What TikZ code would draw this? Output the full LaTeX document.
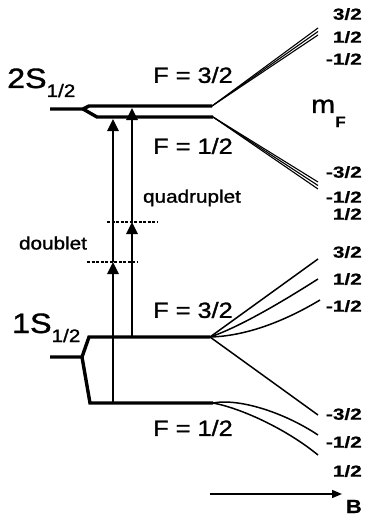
\documentclass[tikz,border=0pt]{standalone}
\usepackage{fontspec}
\setmainfont{Liberation Sans}
\newfontfamily\rgf{Liberation Sans}[FakeBold=1.2]
\newfontfamily\bdf{Liberation Sans Bold}[FakeBold=0.5]
\usepackage{graphicx}
\usetikzlibrary{arrows.meta}
\newcommand\sct[3][1.15]{\scalebox{#1}[1]{\fontsize{#2}{#2}\selectfont #3}}
\begin{document}
\begin{tikzpicture}[x=1pt,y=-1pt,
 level/.style={line width=3.4pt, line join=miter},
 fan/.style={line width=1.5pt},
 thinfan/.style={line width=1.1pt},
 trans/.style={line width=2.6pt,-{Triangle[length=12pt,width=11pt]}},
 dashline/.style={line width=1.2pt, dash pattern=on 3pt off 1.5pt},
 lab/.style={inner sep=0pt, font=\rgf},
 mflab/.style={inner sep=0pt, anchor=east, font=\bdf}
]
\useasboundingbox (0,0) rectangle (365,516);
% ---- 2S levels
\coordinate (s2L) at (50,109);
\coordinate (s2J) at (83,109);
\coordinate (s2a) at (89,106);
\coordinate (s2b) at (97,117);
\coordinate (s2A) at (212,106);
\coordinate (s2B) at (213,117);
\draw[level] (s2L) -- (s2J) -- (s2a) -- (s2A);
\draw[level] (s2J) -- (s2b) -- (s2B);
\coordinate (u1) at (318,28);
\coordinate (u2) at (318,31.5);
\coordinate (u3) at (318,35);
\coordinate (d1) at (318,182);
\coordinate (d2) at (318,185.5);
\coordinate (d3) at (318,189);
\draw[thinfan] (s2A) -- (u1);
\draw[thinfan] (s2A) -- (u2);
\draw[thinfan] (s2A) -- (u3);
\draw[thinfan] (s2B) -- (d1);
\draw[thinfan] (s2B) -- (d2);
\draw[thinfan] (s2B) -- (d3);
% ---- 1S levels
\coordinate (s1L) at (50,357);
\coordinate (s1J) at (82,357);
\coordinate (s1a) at (89,337);
\coordinate (s1b) at (90,403);
\coordinate (s1A) at (210,337);
\coordinate (s1B) at (213,403);
\draw[level] (s1L) -- (s1J) -- (s1a) -- (s1A);
\draw[level] (s1J) -- (s1b) -- (s1B);
\coordinate (e1) at (318,259);
\coordinate (e2) at (318,279);
\coordinate (e3) at (320,300);
\coordinate (e4) at (318,415);
\coordinate (g1) at (318,435);
\coordinate (g2) at (318,455);
\draw[fan] (s1A) -- (e1);
\draw[fan] (s1A) .. controls (240,327) and (285,300) .. (e2);
\draw[fan] (s1A) .. controls (250,336) and (290,318) .. (e3);
\draw[fan] (s1A) -- (e4);
\draw[fan] (s1B) .. controls (240,398) and (285,413) .. (g1);
\draw[fan] (s1B) .. controls (240,408) and (285,428) .. (g2);
% ---- transitions
\coordinate (la0) at (113,403);
\coordinate (lam) at (113,262);
\coordinate (la1) at (113,119);
\coordinate (ra0) at (132,337);
\coordinate (ram) at (132,222);
\coordinate (ra1) at (132,108);
\draw[trans] (la0) -- (lam);
\draw[trans] (lam) -- (la1);
\draw[trans] (ra0) -- (ram);
\draw[trans] (ram) -- (ra1);
\coordinate (dq0) at (107,222);
\coordinate (dq1) at (157,222);
\coordinate (dd0) at (87,262);
\coordinate (dd1) at (138,262);
\draw[dashline] (dq0) -- (dq1);
\draw[dashline] (dd0) -- (dd1);
% ---- B arrow
\coordinate (b0) at (210,494);
\coordinate (b1) at (342,494);
\draw[line width=1.6pt,-{Triangle[length=10pt,width=8pt]}] (b0) -- (b1);
% ---- labels
\node[lab, anchor=base west] (s2t) at (7,88) {\sct{28}{2S}\raisebox{-9pt}{\sct{18}{1/2}}};
\node[lab, anchor=base west] (s1t) at (12,333) {\sct{28}{1S}\raisebox{-9pt}{\sct{18}{1/2}}};
\node[lab] (F2a) at (193,75) {\sct{22}{F = 3/2}};
\node[lab] (F2b) at (193,146) {\sct{22}{F = 1/2}};
\node[lab] (F1a) at (193,310) {\sct{22}{F = 3/2}};
\node[lab] (F1b) at (193,428) {\sct{22}{F = 1/2}};
\node[lab] (dbl) at (53,243) {\sct{18}{doublet}};
\node[lab] (qdr) at (192,198) {\sct{18}{quadruplet}};
\node[lab, anchor=base west] (mF) at (311,113) {\sct{25}{m}\raisebox{-14pt}{\sct{15}{\bdf F}}};
\node[mflab] (m1) at (362,14) {\sct[1.3]{16}{3/2}};
\node[mflab] (m2) at (362,37) {\sct[1.3]{16}{1/2}};
\node[mflab] (m3) at (362,59) {\sct[1.3]{16}{-1/2}};
\node[mflab] (m4) at (362,172) {\sct[1.3]{16}{-3/2}};
\node[mflab] (m5) at (362,197) {\sct[1.3]{16}{-1/2}};
\node[mflab] (m6) at (362,214) {\sct[1.3]{16}{1/2}};
\node[mflab] (m7) at (362,252) {\sct[1.3]{16}{3/2}};
\node[mflab] (m8) at (362,279) {\sct[1.3]{16}{1/2}};
\node[mflab] (m9) at (362,306) {\sct[1.3]{16}{-1/2}};
\node[mflab] (m10) at (362,414) {\sct[1.3]{16}{-3/2}};
\node[mflab] (m11) at (362,442) {\sct[1.3]{16}{-1/2}};
\node[mflab] (m12) at (362,471) {\sct[1.3]{16}{1/2}};
\node[mflab, anchor=base east] (Bl) at (362,513) {\sct{19}{B}};
\end{tikzpicture}
\end{document}
